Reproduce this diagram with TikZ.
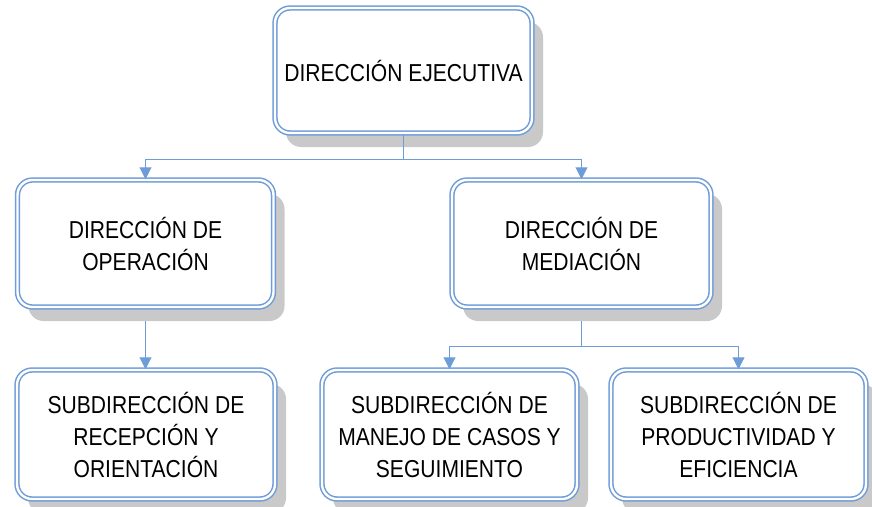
\documentclass[tikz,border=0pt]{standalone}
\usepackage{fontspec}
\setmainfont{Liberation Sans}[FakeStretch=0.86]
\usepackage{tikz}
\usetikzlibrary{arrows.meta,shadows,calc}
\definecolor{borde}{rgb}{0.43,0.61,0.85}
\definecolor{sombra}{rgb}{0.79,0.79,0.79}
\tikzset{
  cuadro/.style={draw=borde,double=white,line width=1.5pt,double distance=2.4pt,
    rounded corners=15pt,fill=white,align=center,inner sep=0pt,
    font=\fontsize{24.5}{32}\selectfont,
    drop shadow={shadow xshift=11pt,shadow yshift=-14pt,fill=sombra,opacity=1}},
  flecha/.style={draw=borde,line width=1.1pt,-{Triangle[length=12pt,width=12pt]}},
  linea/.style={draw=borde,line width=1.1pt}
}
\begin{document}
\begin{tikzpicture}[x=1pt,y=-1pt]
\useasboundingbox (0,0) rectangle (872,506);
% cuadros
\node[cuadro,minimum width=257pt,minimum height=125pt] (ejec) at (403.5,70.5) {DIRECCIÓN EJECUTIVA};
\node[cuadro,minimum width=256pt,minimum height=127pt] (oper) at (145.5,243.5) {DIRECCIÓN DE\\OPERACIÓN};
\node[cuadro,minimum width=259pt,minimum height=127pt] (medi) at (581.5,243.5) {DIRECCIÓN DE\\MEDIACIÓN};
\node[cuadro,minimum width=258pt,minimum height=129pt] (recep) at (146,434.5) {SUBDIRECCIÓN DE\\RECEPCIÓN Y\\ORIENTACIÓN};
\node[cuadro,minimum width=255pt,minimum height=129pt] (casos) at (449.5,434.5) {SUBDIRECCIÓN DE\\MANEJO DE CASOS Y\\SEGUIMIENTO};
\node[cuadro,minimum width=255pt,minimum height=129pt] (produc) at (738.5,434.5) {SUBDIRECCIÓN DE\\PRODUCTIVIDAD Y\\EFICIENCIA};
% conectores
\coordinate (r1) at ($(ejec.south)+(0,26)$);
\draw[linea] (ejec.south) -- (r1);
\draw[flecha] (r1) -| (oper.north);
\draw[flecha] (r1) -| (medi.north);
\draw[flecha] ($(oper.south)+(0,13)$) -- (oper.south |- recep.north);
\coordinate (r2) at ($(medi.south)+(0,39)$);
\draw[linea] ($(medi.south)+(0,13)$) -- (r2);
\draw[flecha] (r2) -| (casos.north);
\draw[flecha] (r2) -| (produc.north);
\end{tikzpicture}
\end{document}
